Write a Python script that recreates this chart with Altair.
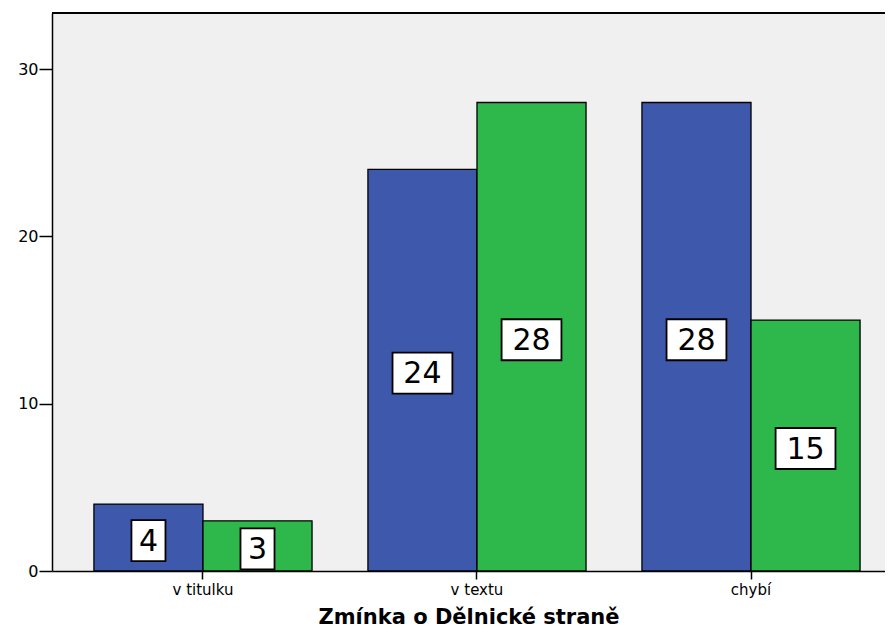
import altair as alt
import pandas as pd

categories = ["v titulku", "v textu", "chybí"]
series = ["1", "2"]
values_blue = [4, 24, 28]
values_green = [3, 28, 15]
colors = ["#3E58AC", "#2EB84B"]

rows = []
for c, b, g in zip(categories, values_blue, values_green):
    rows.append({"kat": c, "serie": series[0], "pocet": b})
    rows.append({"kat": c, "serie": series[1], "pocet": g})
df = pd.DataFrame(rows)

W, H = 833, 558
FONT = "DejaVu Sans"

x_enc = alt.X(
    "kat:N",
    sort=categories,
    scale=alt.Scale(paddingInner=0.204, paddingOuter=0.122, align=0.627),
    axis=alt.Axis(
        title="Zmínka o Dělnické straně",
        titleFont=FONT, titleFontSize=21, titleFontWeight="bold", titleColor="black",
        titleBaseline="alphabetic", titleY=52,
        labelFont=FONT, labelFontSize=15, labelColor="black", labelAngle=0,
        labelPadding=3, tickSize=8, tickColor="black", tickWidth=1.5,
        domainColor="black", domainWidth=1.5, grid=False,
    ),
)
xo_enc = alt.XOffset("serie:N", sort=series, scale=alt.Scale(paddingInner=0, paddingOuter=0))

bars = alt.Chart(df).mark_bar(stroke="black", strokeWidth=1.3, opacity=1).encode(
    x=x_enc,
    xOffset=xo_enc,
    y=alt.Y(
        "pocet:Q",
        scale=alt.Scale(domain=[0, 33.35], nice=False, zero=True),
        axis=alt.Axis(
            title=None, values=[0, 10, 20, 30], grid=False,
            labelFont=FONT, labelFontSize=16, labelColor="black", labelPadding=1,
            tickSize=13, tickColor="black", tickWidth=1.5,
            domainColor="black", domainWidth=1.5,
        ),
    ),
    color=alt.Color("serie:N", sort=series, scale=alt.Scale(domain=series, range=colors), legend=None),
)

base_lab = alt.Chart(df).transform_calculate(mid="datum.pocet / 2")

box_small = "M-0.83,-1H0.83V1H-0.83Z"
box_big = "M-1.46,-1H1.46V1H-1.46Z"

boxes = base_lab.mark_point(
    filled=True, fill="white", stroke="black", strokeWidth=1.8, opacity=1, size=1681, yOffset=3
).encode(
    x=alt.X("kat:N", sort=categories),
    xOffset=xo_enc,
    y=alt.Y("mid:Q"),
    shape=alt.condition("datum.pocet >= 10", alt.value(box_big), alt.value(box_small)),
)

texts = base_lab.mark_text(
    font=FONT, fontSize=30, color="black", baseline="middle", align="center", yOffset=4
).encode(
    x=alt.X("kat:N", sort=categories),
    xOffset=xo_enc,
    y=alt.Y("mid:Q"),
    text=alt.Text("pocet:Q"),
)

top_line = alt.Chart(df).mark_rule(color="black", strokeWidth=1.8).encode(
    y=alt.value(0), x=alt.value(0), x2=alt.value(W)
)

chart = alt.layer(bars, boxes, texts, top_line).properties(
    width=W, height=H,
    autosize=alt.AutoSizeParams(type="none"),
    padding={"left": 44, "top": 5, "right": 0, "bottom": 57},
    background="white",
).configure_view(fill="#F0F0F0", stroke=None)

chart.save("out.html", embed_options={"renderer": "svg", "actions": False})
